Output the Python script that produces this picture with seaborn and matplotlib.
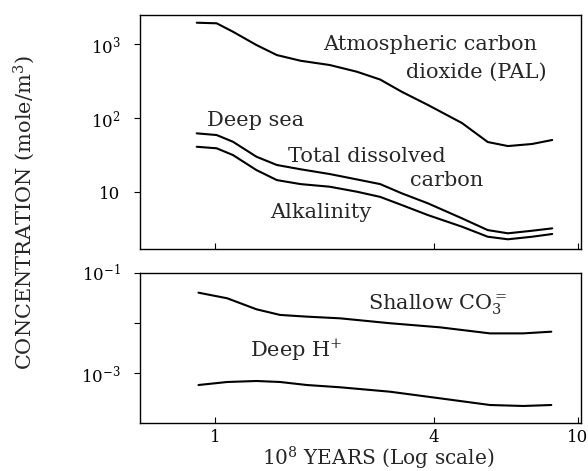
import matplotlib
matplotlib.use("Agg")
import matplotlib.pyplot as plt
import seaborn as sns
from matplotlib.ticker import FixedLocator, FixedFormatter, NullLocator

# ---- data ----
years_top = [0.89, 1.01, 1.12, 1.30, 1.48, 1.72, 2.07, 2.46, 2.85, 3.27, 3.86, 4.79, 5.64, 6.41, 7.47, 8.49]
co2_pal = [1940, 1905, 1466, 969, 709, 594, 520, 422, 331, 226, 150, 85.5, 47.4, 41.8, 44.6, 50.5]
total_dissolved_carbon = [62.1, 58.9, 47.8, 30.0, 23.2, 20.3, 17.5, 14.8, 12.8, 9.6, 7.03, 4.41, 3.06, 2.77, 3.0, 3.23]
alkalinity = [40.9, 39.0, 31.6, 19.8, 14.5, 12.8, 11.8, 10.1, 8.6, 6.67, 4.88, 3.40, 2.49, 2.30, 2.49, 2.71]

years_bottom = [0.90, 1.08, 1.30, 1.51, 1.79, 2.21, 3.03, 4.16, 5.72, 7.06, 8.44]
shallow_co3 = [0.0404, 0.0312, 0.0188, 0.0145, 0.0134, 0.0124, 0.0099, 0.0082, 0.0062, 0.0062, 0.0067]
deep_h = [5.75e-4, 6.61e-4, 6.92e-4, 6.61e-4, 5.75e-4, 5.18e-4, 4.23e-4, 3.12e-4, 2.29e-4, 2.19e-4, 2.29e-4]

x_ticks = [1, 4, 10]
x_ticklabels = ["1", "4", "10"]
top_yticks = [10, 100, 1000]
top_yticklabels = ["10", r"$10^{2}$", r"$10^{3}$"]
bottom_yticks = [1e-3, 1e-2, 1e-1]
bottom_yticklabels = [r"$10^{-3}$", "", r"$10^{-1}$"]

# ---- style ----
sns.set_style("ticks")
plt.rcParams["font.family"] = ["DejaVu Serif"]
plt.rcParams["mathtext.fontset"] = "dejavuserif"
plt.rcParams["axes.linewidth"] = 1.0

W, H = 588, 471
fig = plt.figure(figsize=(W / 100, H / 100), dpi=100)
fig.patch.set_facecolor("white")

left, right = 140, 581
ax1 = fig.add_axes([left / W, 1 - 249 / H, (right - left) / W, (249 - 15) / H])
ax2 = fig.add_axes([left / W, 1 - 423 / H, (right - left) / W, (423 - 273) / H])

lw = 1.5
sns.lineplot(x=years_top, y=co2_pal, ax=ax1, color="black", lw=lw)
sns.lineplot(x=years_top, y=total_dissolved_carbon, ax=ax1, color="black", lw=lw)
sns.lineplot(x=years_top, y=alkalinity, ax=ax1, color="black", lw=lw)
sns.lineplot(x=years_bottom, y=shallow_co3, ax=ax2, color="black", lw=lw)
sns.lineplot(x=years_bottom, y=deep_h, ax=ax2, color="black", lw=lw)

for ax in (ax1, ax2):
    ax.set_xscale("log")
    ax.set_yscale("log")
    ax.set_xlim(0.621, 10.19)
    ax.xaxis.set_major_locator(FixedLocator(x_ticks))
    ax.xaxis.set_minor_locator(NullLocator())
    ax.yaxis.set_minor_locator(NullLocator())
    ax.set_xlabel("")
    ax.set_ylabel("")
    for s in ax.spines.values():
        s.set_visible(True)
        s.set_color("black")
        s.set_linewidth(1.0)
    ax.tick_params(axis="y", direction="out", length=4, width=0.8, pad=10,
                   labelsize=12, colors="black")
    ax.tick_params(axis="x", direction="in", length=4, width=0.8, pad=4,
                   labelsize=12, colors="black")

ax1.set_ylim(1.70, 2466)
ax1.yaxis.set_major_locator(FixedLocator(top_yticks))
ax1.yaxis.set_major_formatter(FixedFormatter(top_yticklabels))
ax1.xaxis.set_major_formatter(FixedFormatter(["", "", ""]))

ax2.set_ylim(1e-4, 1e-1)
ax2.yaxis.set_major_locator(FixedLocator(bottom_yticks))
ax2.yaxis.set_major_formatter(FixedFormatter(bottom_yticklabels))
ax2.xaxis.set_major_formatter(FixedFormatter(x_ticklabels))

fs = 15
ax1.text(1.984, 970, "Atmospheric carbon", fontsize=fs, ha="left", va="center")
ax1.text(8.21, 419, "dioxide (PAL)", fontsize=fs, ha="right", va="center")
ax1.text(0.95, 94, "Deep sea", fontsize=fs, ha="left", va="center")
ax1.text(1.589, 30.6, "Total dissolved", fontsize=fs, ha="left", va="center")
ax1.text(3.45, 14.5, "carbon", fontsize=fs, ha="left", va="center")
ax1.text(1.417, 5.37, "Alkalinity", fontsize=fs, ha="left", va="center")
ax2.text(2.64, 0.0229, r"Shallow CO$_{3}^{=}$", fontsize=fs, ha="left", va="center")
ax2.text(1.249, 2.88e-3, r"Deep H$^{+}$", fontsize=fs, ha="left", va="center")

fig.text(24 / W, 1 - 213 / H, r"CONCENTRATION (mole/m$^{3}$)", rotation=90,
         ha="center", va="center", fontsize=15)
fig.text(378 / W, 1 - 465 / H, r"10$^{8}$ YEARS (Log scale)",
         ha="center", va="baseline", fontsize=14.5)

fig.savefig("out.png", dpi=100, facecolor="white")
